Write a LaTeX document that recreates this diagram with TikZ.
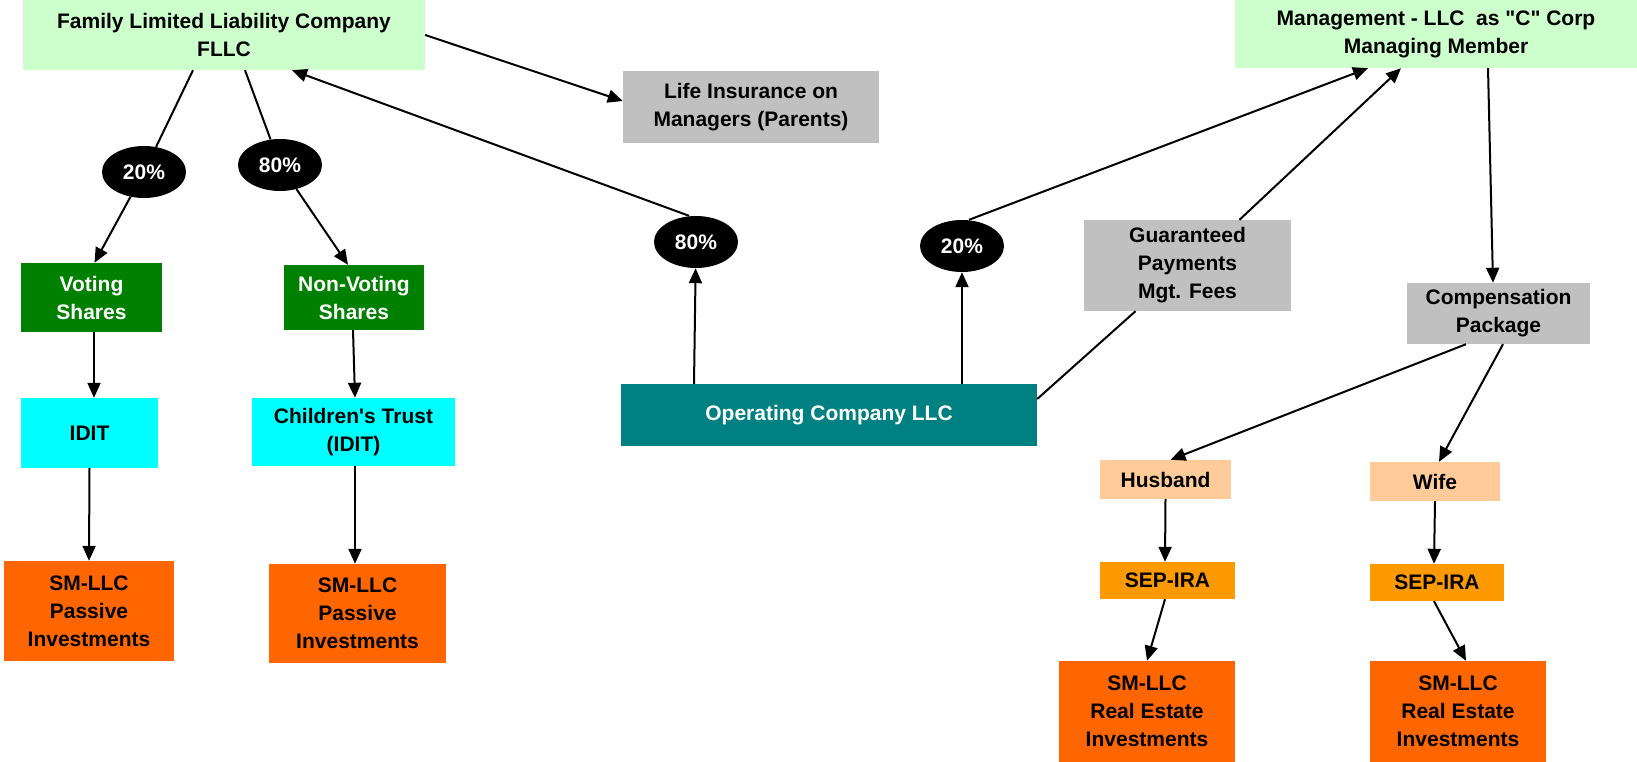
\documentclass[tikz,border=0pt]{standalone}
\usepackage{fontspec}
\setmainfont{Liberation Sans}[Ligatures=TeXOff]
\usetikzlibrary{arrows.meta,shapes.geometric}
\definecolor{lgreen}{HTML}{CCFFCC}
\definecolor{lgray}{HTML}{C0C0C0}
\definecolor{dgreen}{HTML}{008000}
\definecolor{cyanb}{HTML}{00FFFF}
\definecolor{orng}{HTML}{FF6600}
\definecolor{tealb}{HTML}{008080}
\definecolor{peach}{HTML}{FFCC99}
\definecolor{sep}{HTML}{FF9900}
\begin{document}
\begin{tikzpicture}[x=1pt,y=-1pt,
  box/.style={rectangle, inner sep=0pt, align=center, font=\fontsize{21}{28}\selectfont\bfseries},
  pct/.style={ellipse, fill=black, text=white, minimum width=84pt, minimum height=52pt, inner sep=0pt, font=\fontsize{21}{28}\selectfont\bfseries},
  arr/.style={-{Triangle[length=15pt,width=13pt]}, line width=2pt},
  ln/.style={line width=2pt}]
\useasboundingbox (0,0) rectangle (1637,762);
% top
\node[box, fill=lgreen, minimum width=402pt, minimum height=70pt] (fllc) at (224,35) {Family Limited Liability Company\\FLLC};
\node[box, fill=lgray, minimum width=256pt, minimum height=72pt] (life) at (751,107) {Life Insurance on\\Managers (Parents)};
\node[box, fill=lgreen, minimum width=402pt, minimum height=68pt] (mgmt) at (1436,34) {Management - LLC\ \ as "C" Corp\\Managing Member};
% ellipses
\node[pct] (e20a) at (144,172) {20\%};
\node[pct] (e80a) at (280,165) {80\%};
\node[pct] (e80b) at (696,242) {80\%};
\node[pct] (e20b) at (962,246) {20\%};
% left column
\node[box, fill=dgreen, text=white, minimum width=141pt, minimum height=69pt] (voting) at (91.5,297.5) {Voting\\Shares};
\node[box, fill=dgreen, text=white, minimum width=140pt, minimum height=65pt] (nonvoting) at (354,297.5) {Non-Voting\\Shares};
\node[box, fill=cyanb, minimum width=137pt, minimum height=70pt] (idit) at (89.5,433) {IDIT};
\node[box, fill=cyanb, minimum width=203pt, minimum height=68pt] (ctrust) at (353.5,432) {Children's Trust\\(IDIT)};
\node[box, fill=orng, minimum width=170pt, minimum height=100pt] (sm1) at (89,611) {SM-LLC\\Passive\\Investments};
\node[box, fill=orng, minimum width=177pt, minimum height=99pt] (sm2) at (357.5,613.5) {SM-LLC\\Passive\\Investments};
% middle
\node[box, fill=tealb, text=white, minimum width=416pt, minimum height=62pt] (op) at (829,415) {Operating Company LLC};
\node[box, fill=lgray, minimum width=207pt, minimum height=91pt] (gp) at (1187.5,265.5) {Guaranteed\\Payments\\Mgt. Fees};
% right
\node[box, fill=lgray, minimum width=183pt, minimum height=61pt] (comp) at (1498.5,313.5) {Compensation\\Package};
\node[box, fill=peach, minimum width=131pt, minimum height=39pt] (husband) at (1165.5,479.5) {Husband};
\node[box, fill=peach, minimum width=130pt, minimum height=39pt] (wife) at (1435,481.5) {Wife};
\node[box, fill=sep, minimum width=135pt, minimum height=37pt] (sep1) at (1167.5,580.5) {SEP-IRA};
\node[box, fill=sep, minimum width=134pt, minimum height=37pt] (sep2) at (1437,582.5) {SEP-IRA};
\node[box, fill=orng, minimum width=176pt, minimum height=101pt] (re1) at (1147,711.5) {SM-LLC\\Real Estate\\Investments};
\node[box, fill=orng, minimum width=176pt, minimum height=101pt] (re2) at (1458,711.5) {SM-LLC\\Real Estate\\Investments};
% connectors
\draw[ln] ([xshift=-31pt]fllc.south) -- (e20a);
\draw[arr] (e20a) -- ([xshift=3pt]voting.north);
\draw[ln] ([xshift=21pt]fllc.south) -- (e80a);
\draw[arr] (e80a) -- ([xshift=-6pt]nonvoting.north);
\draw[arr] ([xshift=2.5pt]voting.south) -- ([xshift=4.5pt]idit.north);
\draw[arr] ([xshift=-1pt]nonvoting.south) -- ([xshift=1.5pt]ctrust.north);
\draw[arr] (idit.south) -- (sm1.north);
\draw[arr] ([xshift=1.5pt]ctrust.south) -- ([xshift=-2.5pt]sm2.north);
\draw[arr] (fllc.east) -- ([yshift=6pt]life.west);
\draw[arr] ([xshift=-7pt]e80b.north) -- ([xshift=68pt]fllc.south);
\draw[arr] ([xshift=-135pt]op.north) -- (e80b);
\draw[arr] ([xshift=133pt]op.north) -- (e20b);
\draw[arr] ([xshift=7pt]e20b.north) -- ([xshift=-68pt]mgmt.south);
\draw[ln] ([yshift=16pt]op.east) -- ([xshift=-52pt]gp.south);
\draw[arr] ([xshift=52pt]gp.north) -- ([xshift=-35pt]mgmt.south);
\draw[arr] ([xshift=52pt]mgmt.south) -- ([xshift=-5.5pt]comp.north);
\draw[arr] ([xshift=-32.5pt]comp.south) -- ([xshift=5pt]husband.north);
\draw[arr] ([xshift=4.5pt]comp.south) -- ([xshift=4pt]wife.north);
\draw[arr] (husband.south) -- ([xshift=-2.5pt]sep1.north);
\draw[arr] (wife.south) -- ([xshift=-3pt]sep2.north);
\draw[arr] ([xshift=-2.5pt]sep1.south) -- (re1.north);
\draw[arr] ([xshift=-3pt]sep2.south) -- ([xshift=8pt]re2.north);
\end{tikzpicture}
\end{document}
